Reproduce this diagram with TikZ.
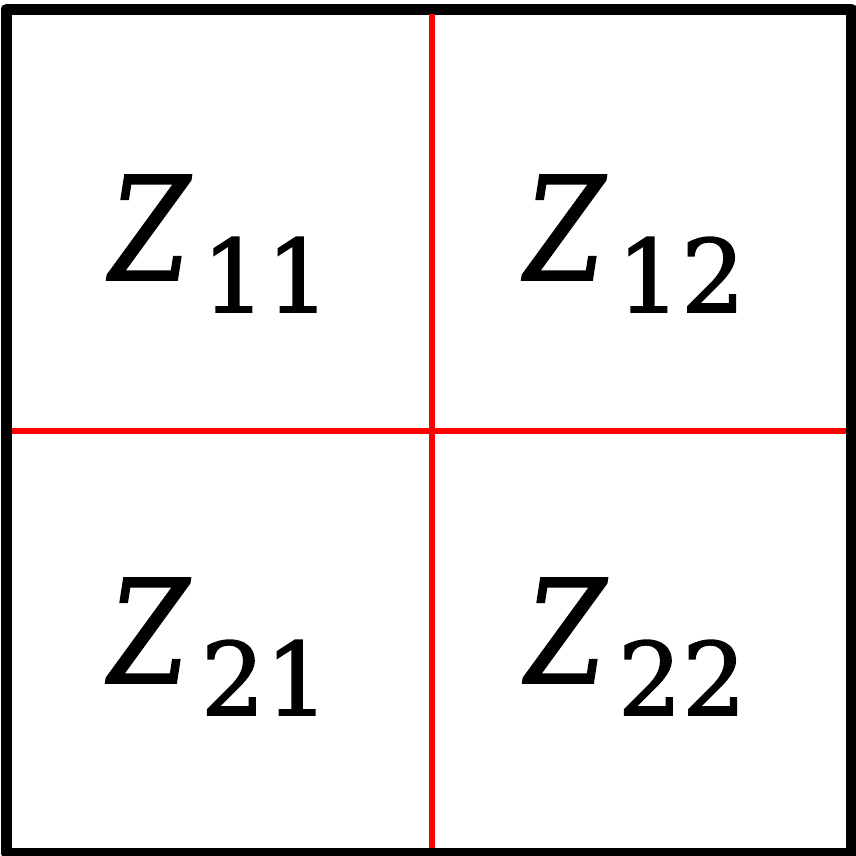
\documentclass[tikz,border=0pt]{standalone}
\usepackage{fontspec}
\setmainfont{DejaVu Serif}
\newfontfamily\zfont[FakeStretch=0.8,FakeBold=1.2]{DejaVu Serif}
\newfontfamily\subfont[FakeBold=1.5]{DejaVu Serif}
\tikzset{
  frame/.style={draw=black, line width=11pt, line join=round},
  divider/.style={draw=red, line width=6pt},
  lbl/.style={anchor=base, inner sep=0pt},
}
\newcommand{\zsub}[1]{{\zfont\fontsize{144}{144}\selectfont\itshape Z}\kern12pt\raisebox{-32pt}{\subfont\fontsize{101}{101}\selectfont #1}}
\begin{document}
\begin{tikzpicture}[x=1pt,y=-1pt]
\useasboundingbox (0,0) rectangle (856,855);
\coordinate (tl) at (6.5,9);
\coordinate (br) at (851.5,853.5);
\path[frame] (tl) rectangle (br);
\coordinate (vt) at (431.5,14);
\coordinate (vb) at (431.5,848);
\coordinate (hl) at (12,431);
\coordinate (hr) at (846,431);
\path[divider] (vt) -- (vb);
\path[divider] (hl) -- (hr);
\node[lbl] (z11) at (220,280) {\zsub{11}};
\node[lbl] (z12) at (635,280) {\zsub{12}};
\node[lbl] (z21) at (219,683) {\zsub{21}};
\node[lbl] (z22) at (636,683) {\zsub{22}};
\end{tikzpicture}
\end{document}
